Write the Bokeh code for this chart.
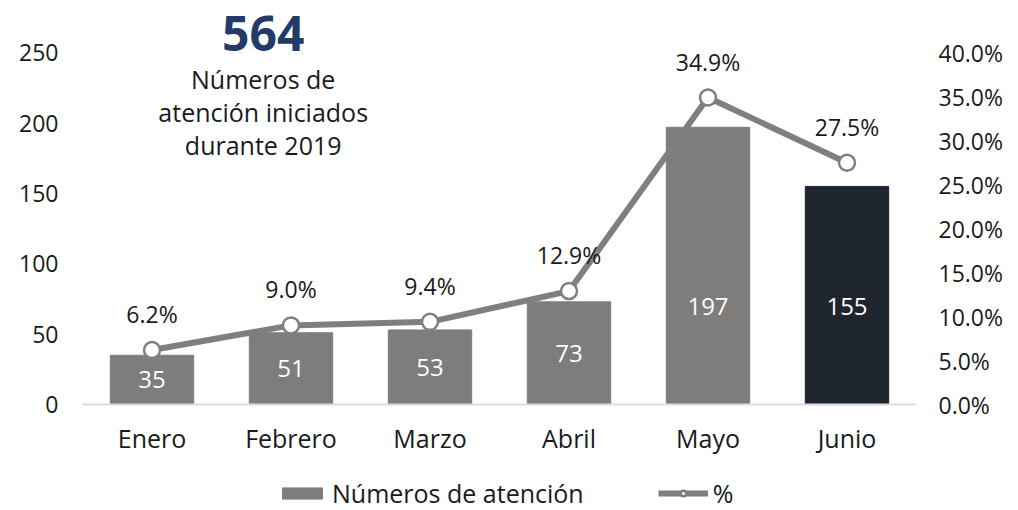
from bokeh.plotting import figure
from bokeh.models import (ColumnDataSource, Range1d, LinearAxis, FixedTicker,
                          NumeralTickFormatter, Label, Legend, LegendItem, FactorRange, Span)
from bokeh.embed import file_html
from bokeh.resources import INLINE
from bokeh.core.properties import value
import numpy as np

months = ["Enero", "Febrero", "Marzo", "Abril", "Mayo", "Junio"]
counts = [35, 51, 53, 73, 197, 155]
pcts = [0.062, 0.090, 0.094, 0.129, 0.349, 0.275]
pct_labels = ["6.2%", "9.0%", "9.4%", "12.9%", "34.9%", "27.5%"]
bar_colors = ["#7f7c7c", "#7f7c7c", "#7f7c7c", "#7f7c7c", "#7f7c7c", "#1f252e"]
total_label = "564"
title_lines = ["Números de", "atención iniciados", "durante 2019"]
left_ticks = [0, 50, 100, 150, 200, 250]
right_ticks = [0.0, 0.05, 0.10, 0.15, 0.20, 0.25, 0.30, 0.35, 0.40]

FONT = "Open Sans"
TXT = "#1a1a1a"
PX = 1.408                      # pixels per count unit
Y_END = 280
Y_START = -106 / PX             # room for category labels and legend
P_SCALE = 0.40 / 250

src = ColumnDataSource(dict(
    x=months, c=counts, p=pcts, pl=pct_labels, col=bar_colors,
    cl=[str(v) for v in counts],
    cy=list(np.minimum(np.array(counts) / 2, 70)),
    zero=[0] * len(months),
))

p = figure(width=1018, height=510, x_range=FactorRange(*months, range_padding=0),
           y_range=Range1d(Y_START, Y_END), output_backend="svg", toolbar_location=None,
           min_border_left=82, min_border_right=102, min_border_top=10, min_border_bottom=0)
p.extra_y_ranges = {"pct": Range1d(Y_START * P_SCALE, Y_END * P_SCALE)}
p.outline_line_color = None
p.grid.visible = False
p.xaxis.visible = False

p.add_layout(Span(location=0, dimension="width", line_color="#d9dde3", line_width=2))

bars = p.vbar(x="x", top="c", width=0.6, color="col", source=src)
p.text(x="x", y="cy", text="cl", source=src, text_color="white",
       text_font=value(FONT), text_font_size="24px", text_align="center",
       text_baseline="middle")

# category labels
p.text(x="x", y="zero", text="x", source=src, y_offset=33, text_color=TXT,
       text_font=value(FONT), text_font_size="25px", text_align="center",
       text_baseline="middle")

line = p.line(x="x", y="p", source=src, line_color="#7f7f7f", line_width=6,
              y_range_name="pct")
pts = p.scatter(x="x", y="p", source=src, size=16, fill_color="white",
                line_color="#7f7f7f", line_width=2.5, y_range_name="pct")
p.text(x="x", y="p", text="pl", source=src, y_range_name="pct", y_offset=-20,
       text_color=TXT, text_font=value(FONT), text_font_size="23px",
       text_align="center", text_baseline="bottom")

# left axis
ya = p.yaxis[0]
ya.ticker = FixedTicker(ticks=left_ticks)
ya.axis_line_color = None
ya.major_tick_line_color = None
ya.minor_tick_line_color = None
ya.major_label_standoff = 18
ya.major_label_text_font = FONT
ya.major_label_text_font_size = "23px"
ya.major_label_text_color = TXT

ra = LinearAxis(y_range_name="pct", ticker=FixedTicker(ticks=right_ticks),
                formatter=NumeralTickFormatter(format="0.0%"))
ra.axis_line_color = None
ra.major_tick_line_color = None
ra.minor_tick_line_color = None
ra.major_label_standoff = 16
ra.major_label_text_font = FONT
ra.major_label_text_font_size = "23px"
ra.major_label_text_color = TXT
p.add_layout(ra, "right")

p.add_layout(Label(x=1.3, y=264, text=total_label, text_font=FONT,
                   text_font_size="48px", text_font_style="bold",
                   text_color="#243b6a", text_align="center", text_baseline="middle"))
for i, t in enumerate(title_lines):
    p.add_layout(Label(x=1.3, y=231.5 - i * 23.6, text=t, text_font=FONT,
                       text_font_size="25px", text_color=TXT,
                       text_align="center", text_baseline="middle"))

legend = Legend(items=[LegendItem(label="Números de atención", renderers=[bars], index=0),
                       LegendItem(label="%", renderers=[line, pts])],
                orientation="horizontal", location=(195, 0),
                border_line_color=None, background_fill_alpha=0,
                label_text_font=FONT, label_text_font_size="25px",
                label_text_color=TXT, glyph_width=50, glyph_height=14,
                label_standoff=5, spacing=74, padding=2, margin=0)
p.add_layout(legend, "center")

open("out.html", "w").write(file_html(p, INLINE))
